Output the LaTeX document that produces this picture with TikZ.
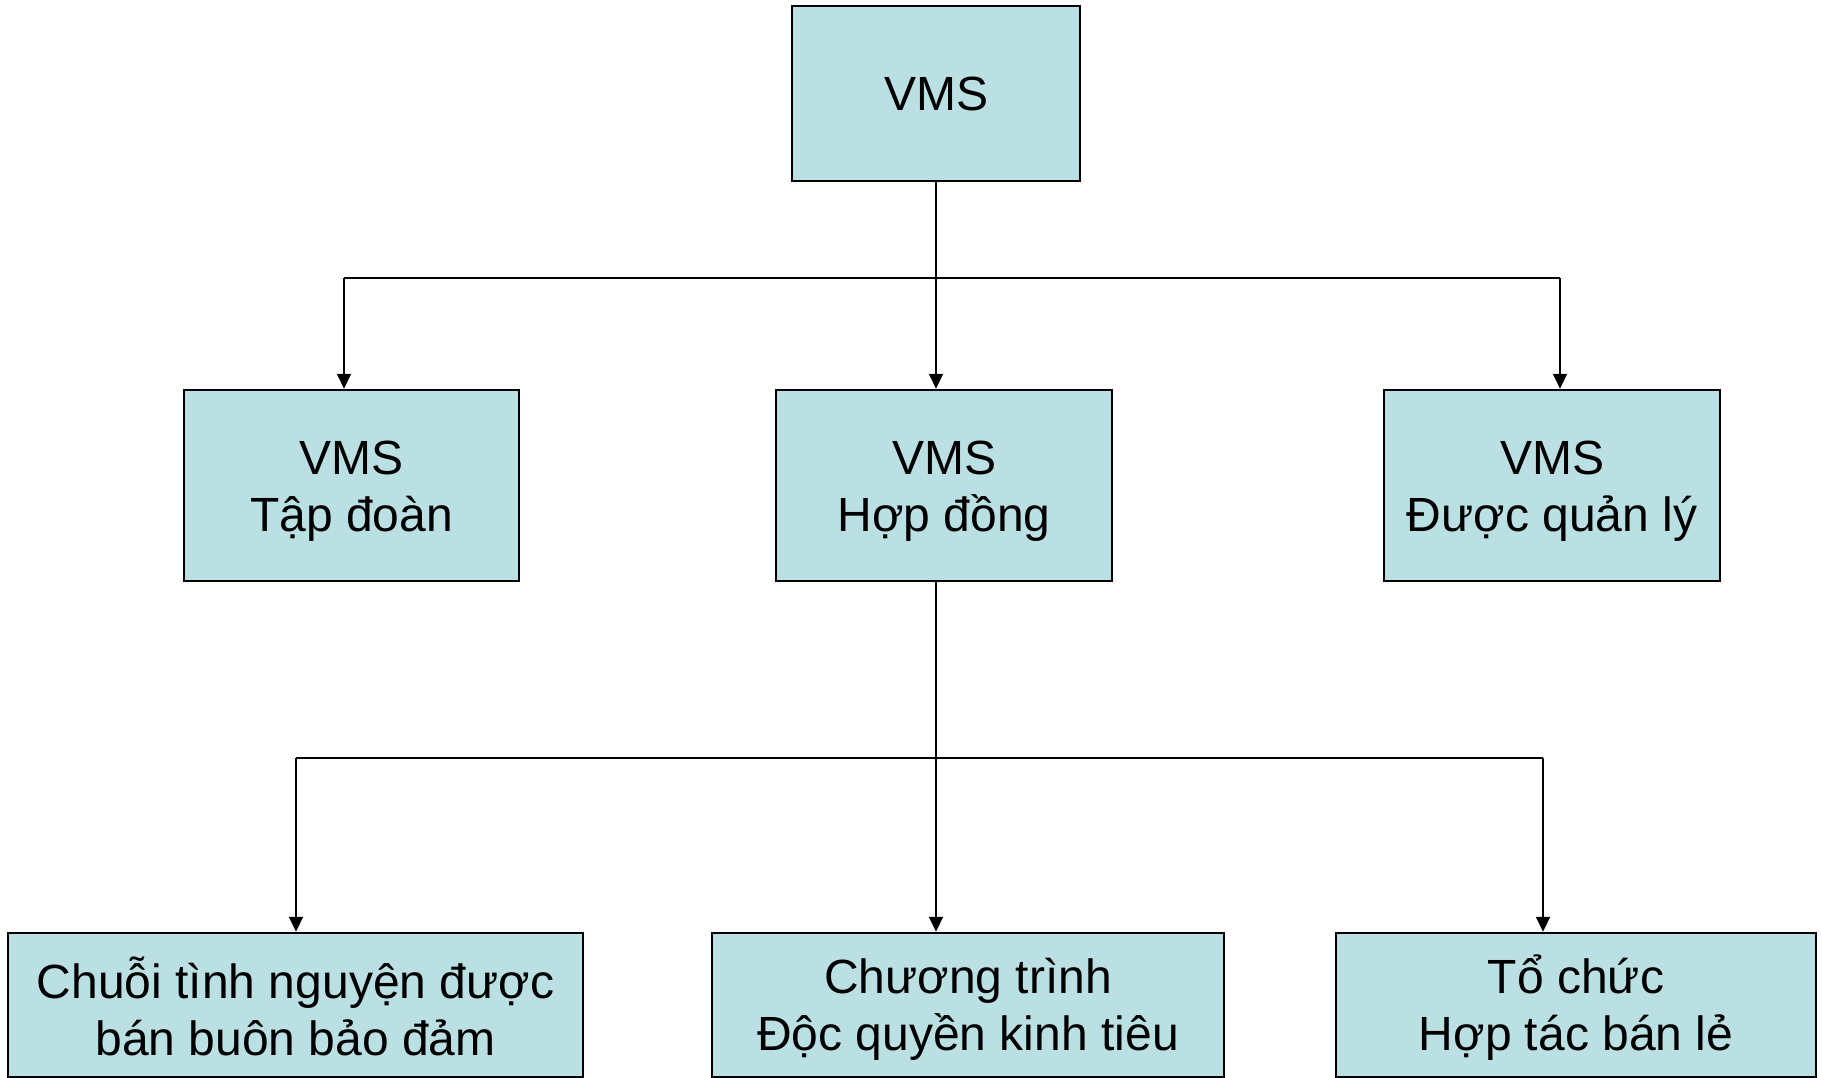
\documentclass[tikz,border=0pt]{standalone}
\usepackage{fontspec}
\setmainfont{Liberation Sans}
\usetikzlibrary{arrows.meta}
\definecolor{boxfill}{HTML}{BBE0E3}
% uniform line box for two-line labels (44pt above, 1pt below the baseline)
\newcommand\orgstrut{\rule[-1pt]{0pt}{45pt}}
\tikzset{
  orgbox/.style={draw=black, fill=boxfill, line width=2.5pt, align=center,
    inner sep=0pt, font=\fontsize{48}{57}\selectfont},
  link/.style={line width=2pt, draw=black},
  arrowlink/.style={link, -{Triangle[length=15pt,width=14pt]}}
}
\begin{document}
\begin{tikzpicture}[x=1pt, y=-1pt]
  \useasboundingbox (0,0) rectangle (1822,1078);
  % top level
  \node[orgbox, minimum width=288pt, minimum height=175pt] (top) at (936,93.5) {VMS};
  % second level
  \node[orgbox, minimum width=335pt, minimum height=191pt] (tapdoan) at (351.5,485.5)
    {\orgstrut VMS\\\orgstrut Tập đoàn};
  \node[orgbox, minimum width=336pt, minimum height=191pt] (hopdong) at (944,485.5)
    {\orgstrut VMS\\\orgstrut Hợp đồng};
  \node[orgbox, minimum width=336pt, minimum height=191pt] (quanly) at (1552,485.5)
    {\orgstrut VMS\\\orgstrut Được quản lý};
  % third level
  \node[orgbox, minimum width=575pt, minimum height=144pt] (chuoi) at (295.5,1005)
    {\orgstrut Chuỗi tình nguyện được\\\orgstrut bán buôn bảo đảm};
  \node[orgbox, minimum width=512pt, minimum height=144pt] (chuongtrinh) at (968,1005)
    {\orgstrut Chương trình\\\orgstrut Độc quyền kinh tiêu};
  \node[orgbox, minimum width=480pt, minimum height=144pt] (tochuc) at (1576,1005)
    {\orgstrut Tổ chức\\\orgstrut Hợp tác bán lẻ};
  % bus coordinates
  \coordinate (busAL) at (344,278);
  \coordinate (busAR) at (1560,278);
  \coordinate (busBL) at (296,758);
  \coordinate (busBR) at (1543,758);
  % connectors from the top box
  \draw[arrowlink] (top.south) -- (top.south |- hopdong.north);
  \draw[link] (busAL) -- (busAR);
  \draw[arrowlink] (busAL) -- (busAL |- tapdoan.north);
  \draw[arrowlink] (busAR) -- (busAR |- quanly.north);
  % connectors from the contract box
  \draw[arrowlink] (top.south |- hopdong.south) -- (top.south |- chuongtrinh.north);
  \draw[link] (busBL) -- (busBR);
  \draw[arrowlink] (busBL) -- (busBL |- chuoi.north);
  \draw[arrowlink] (busBR) -- (busBR |- tochuc.north);
\end{tikzpicture}
\end{document}
